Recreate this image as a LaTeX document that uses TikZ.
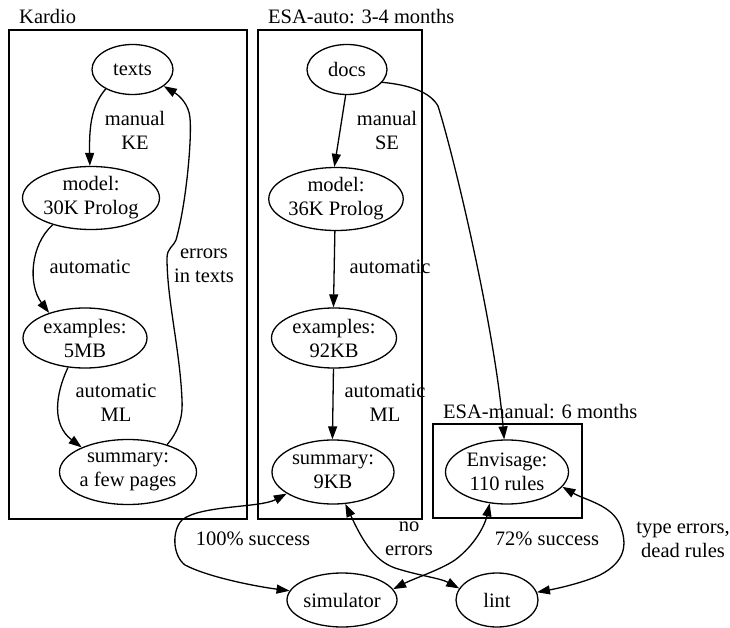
\documentclass[tikz,border=0pt]{standalone}
\usepackage{fontspec}
\setmainfont{Liberation Serif}
\usetikzlibrary{shapes.geometric,arrows.meta}

\tikzset{
  gnode/.style={draw, ellipse, line width=1.3pt, inner sep=0pt, align=center},
  edge/.style={-{Triangle[length=13pt,width=9pt]}, line width=1.3pt},
  biedge/.style={{Triangle[length=13pt,width=9pt]}-{Triangle[length=13pt,width=9pt]}, line width=1.3pt},
  lbl/.style={align=center, inner sep=0pt},
  cluster/.style={draw, line width=1.3pt},
  ctitle/.style={anchor=base west, inner sep=0pt},
}

\begin{document}
\begin{tikzpicture}[x=1pt, y=-1pt, font=\fontsize{20.5}{24}\selectfont]
\useasboundingbox (0,0) rectangle (730,628);

% clusters
\draw[cluster] (9,30) rectangle (247,519);
\node[ctitle] (tk) at (19,24) {Kardio};
\draw[cluster] (258,30) rectangle (422,519);
\node[ctitle] (ta) at (268,24) {ESA-auto: 3-4 months};
\draw[cluster] (433,424) rectangle (582,518);
\node[ctitle] (tm) at (443,418) {ESA-manual: 6 months};

% Kardio chain
\node[gnode, minimum width=81pt, minimum height=50pt] (texts) at (132.5,69.5) {texts};
\node[gnode, minimum width=137pt, minimum height=63pt] (model1) at (91,198) {model:\\30K Prolog};
\node[gnode, minimum width=124pt, minimum height=60pt] (ex1) at (85,338) {examples:\\5MB};
\node[gnode, minimum width=137pt, minimum height=65pt] (sum1) at (128,472) {summary:\\a few pages};

% ESA-auto chain
\node[gnode, minimum width=80pt, minimum height=50pt] (docs) at (347,69.5) {docs};
\node[gnode, minimum width=128pt, minimum height=63pt] (model2) at (336,199) {model:\\36K Prolog};
\node[gnode, minimum width=125pt, minimum height=60pt] (ex2) at (334,338) {examples:\\92KB};
\node[gnode, minimum width=122pt, minimum height=64pt] (sum2) at (333,472) {summary:\\9KB};

% ESA-manual
\node[gnode, minimum width=123pt, minimum height=64pt] (env) at (507,472) {Envisage:\\110 rules};

% checkers
\node[gnode, minimum width=110pt, minimum height=54pt] (sim) at (342,600) {simulator};
\node[gnode, minimum width=82pt, minimum height=54pt] (lint) at (497,600) {lint};

% Kardio edges
\draw[edge] (texts.216) .. controls (92,105) and (89,125) .. (model1.92);
\node[lbl] (l1) at (135,130) {manual\\KE};
\draw[edge] (model1.215) .. controls (30,245) and (28,285) .. (ex1.145);
\node[lbl] (l2) at (90,267) {automatic};
\draw[edge] (ex1.240) .. controls (55,395) and (52,425) .. (sum1.152);
\node[lbl] (l3) at (116,403) {automatic\\ML};
\draw[edge] (sum1.35) .. controls (178,432) and (183,418) .. (182,400)
  .. controls (180,350) and (167,300) .. (167,258)
  .. controls (167,248) and (174,246) .. (176,240)
  .. controls (186,205) and (192,140) .. (190,118)
  .. controls (189,105) and (180,96) .. (texts.332);
\node[lbl] (l4) at (204,266) {errors\\in texts};

% ESA-auto edges
\draw[edge] (docs.267) -- (model2.93);
\node[lbl] (l5) at (387,130) {manual\\SE};
\draw[edge] (model2.268) -- (ex2.91);
\node[lbl] (l6) at (390,267) {automatic};
\draw[edge] (ex2.269) -- (sum2.91);
\node[lbl] (l7) at (385,403) {automatic\\ML};
\draw[edge] (docs.340) .. controls (410,85) and (430,92) .. (438,106)
  .. controls (455,160) and (495,330) .. (env.95);

% checking edges
\draw[biedge] (sum2.205) .. controls (260,508) and (200,505) .. (182,520)
  .. controls (172,530) and (172,555) .. (185,565)
  .. controls (210,578) and (260,587) .. (sim.170);
\node[lbl] (l8) at (253,539) {100\%\ success};
\draw[biedge] (sum2.291) .. controls (360,535) and (372,560) .. (395,568)
  .. controls (420,576) and (440,578) .. (lint.163);
\node[lbl] (l9) at (409,539) {no\\errors};
\draw[biedge] (env.241) .. controls (485,525) and (475,545) .. (455,560)
  .. controls (440,570) and (415,578) .. (sim.12);
\node[lbl] (l10) at (547,539) {72\%\ success};
\draw[biedge] (env.345) .. controls (585,500) and (612,505) .. (620,525)
  .. controls (628,545) and (625,562) .. (600,575)
  .. controls (585,582) and (560,588) .. (lint.11);
\node[lbl] (l11) at (683,540) {type errors,\\dead rules};
\end{tikzpicture}
\end{document}
